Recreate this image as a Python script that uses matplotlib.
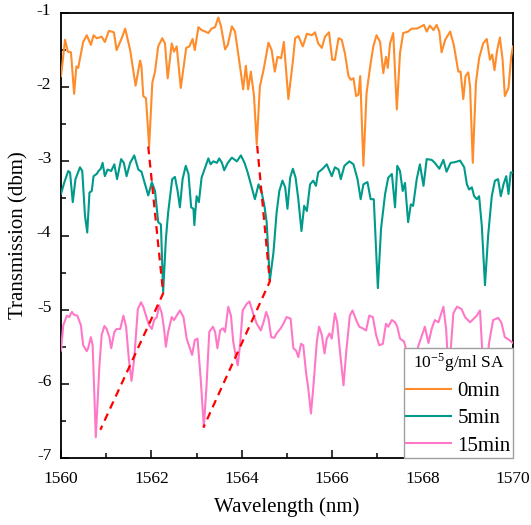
import matplotlib
matplotlib.use("Agg")
import matplotlib.pyplot as plt
from matplotlib.ticker import MultipleLocator
from matplotlib.transforms import ScaledTranslation

plt.rcParams["font.family"] = ["Liberation Serif", "DejaVu Serif"]
plt.rcParams["mathtext.fontset"] = "stix"
plt.rcParams["axes.unicode_minus"] = False
plt.rcParams.update({
    "xtick.labelsize": 12.5, "ytick.labelsize": 12.5,
    "xtick.direction": "in", "ytick.direction": "in",
    "xtick.major.size": 6, "ytick.major.size": 6,
    "xtick.minor.size": 3.5, "ytick.minor.size": 3.5,
    "xtick.major.width": 1.1, "ytick.major.width": 1.1,
    "xtick.minor.width": 1.1, "ytick.minor.width": 1.1,
    "xtick.major.pad": 9, "ytick.major.pad": 7,
})

ORANGE, TEAL, PINK = "#ff8c2a", "#009a8a", "#ff78c8"

# 0 min
orange_wl = [1560.00, 1560.09, 1560.15, 1560.22, 1560.29, 1560.34, 1560.38, 1560.49, 1560.57, 1560.66,
             1560.72, 1560.79, 1560.90, 1560.97, 1561.06, 1561.17, 1561.23, 1561.33, 1561.42, 1561.53,
             1561.65, 1561.75, 1561.78, 1561.82, 1561.88, 1561.95, 1562.02, 1562.08, 1562.15, 1562.24,
             1562.30, 1562.36, 1562.45, 1562.50, 1562.56, 1562.65, 1562.77, 1562.84, 1562.91, 1562.96,
             1563.04, 1563.11, 1563.19, 1563.26, 1563.33, 1563.41, 1563.48, 1563.54, 1563.63, 1563.69,
             1563.78, 1563.85, 1563.96, 1564.03, 1564.09, 1564.14, 1564.20, 1564.27, 1564.33, 1564.40,
             1564.48, 1564.59, 1564.66, 1564.73, 1564.79, 1564.87, 1564.93, 1565.03, 1565.13, 1565.18,
             1565.25, 1565.35, 1565.44, 1565.55, 1565.62, 1565.69, 1565.77, 1565.84, 1565.93, 1566.00,
             1566.06, 1566.14, 1566.21, 1566.28, 1566.36, 1566.41, 1566.47, 1566.53, 1566.58, 1566.62,
             1566.69, 1566.76, 1566.84, 1566.91, 1566.98, 1567.06, 1567.13, 1567.19, 1567.23, 1567.28,
             1567.35, 1567.43, 1567.50, 1567.57, 1567.68, 1567.76, 1567.87, 1567.94, 1568.03, 1568.09,
             1568.16, 1568.24, 1568.31, 1568.37, 1568.42, 1568.50, 1568.61, 1568.69, 1568.79, 1568.84,
             1568.90, 1568.95, 1569.01, 1569.05, 1569.11, 1569.18, 1569.25, 1569.34, 1569.42, 1569.49,
             1569.54, 1569.59, 1569.65, 1569.71, 1569.77, 1569.82, 1569.90, 1569.96, 1570.00]
orange_db = [-1.85, -1.36, -1.52, -1.53, -2.09, -1.72, -1.74, -1.39, -1.30, -1.43,
             -1.30, -1.34, -1.32, -1.39, -1.24, -1.26, -1.50, -1.36, -1.21, -1.50,
             -1.98, -1.64, -1.72, -2.12, -2.15, -2.80, -1.94, -1.79, -1.45, -1.34,
             -1.41, -1.88, -1.41, -1.52, -1.45, -2.01, -1.47, -1.45, -1.35, -1.50,
             -1.19, -1.23, -1.25, -1.27, -1.21, -1.19, -1.06, -1.18, -1.49, -1.43,
             -1.18, -1.25, -1.72, -2.03, -1.71, -2.03, -1.79, -2.12, -2.77, -1.99,
             -1.77, -1.40, -1.50, -1.79, -1.59, -1.61, -1.39, -2.16, -1.65, -1.34,
             -1.31, -1.45, -1.28, -1.30, -1.26, -1.41, -1.47, -1.32, -1.26, -1.63,
             -1.63, -1.34, -1.36, -1.54, -1.85, -1.90, -1.88, -2.12, -2.10, -1.85,
             -3.06, -2.08, -1.72, -1.45, -1.30, -1.39, -1.81, -1.59, -1.74, -1.41,
             -1.27, -2.30, -1.54, -1.27, -1.25, -1.21, -1.21, -1.19, -1.16, -1.25,
             -1.17, -1.23, -1.16, -1.25, -1.53, -1.36, -1.25, -1.43, -1.79, -1.79,
             -2.16, -1.85, -1.80, -1.99, -3.02, -1.94, -1.61, -1.41, -1.35, -1.63,
             -1.56, -1.77, -1.50, -1.33, -1.63, -2.12, -2.01, -1.59, -1.45]

# 5 min
teal_wl = [1560.00, 1560.07, 1560.16, 1560.20, 1560.26, 1560.32, 1560.42, 1560.47, 1560.53, 1560.58,
           1560.63, 1560.68, 1560.72, 1560.79, 1560.83, 1560.88, 1560.92, 1560.97, 1561.03, 1561.11,
           1561.18, 1561.24, 1561.33, 1561.39, 1561.45, 1561.53, 1561.62, 1561.71, 1561.78, 1561.86,
           1561.93, 1562.01, 1562.08, 1562.15, 1562.21, 1562.26, 1562.32, 1562.37, 1562.46, 1562.52,
           1562.58, 1562.63, 1562.69, 1562.76, 1562.82, 1562.88, 1562.93, 1562.95, 1563.00, 1563.05,
           1563.11, 1563.19, 1563.26, 1563.31, 1563.37, 1563.45, 1563.50, 1563.56, 1563.61, 1563.69,
           1563.78, 1563.89, 1563.98, 1564.06, 1564.13, 1564.22, 1564.29, 1564.37, 1564.44, 1564.50,
           1564.55, 1564.62, 1564.70, 1564.77, 1564.83, 1564.90, 1564.96, 1565.01, 1565.07, 1565.13,
           1565.19, 1565.25, 1565.32, 1565.38, 1565.44, 1565.51, 1565.58, 1565.64, 1565.69, 1565.79,
           1565.88, 1565.99, 1566.06, 1566.14, 1566.19, 1566.27, 1566.38, 1566.47, 1566.56, 1566.63,
           1566.69, 1566.78, 1566.85, 1566.92, 1567.01, 1567.08, 1567.17, 1567.24, 1567.32, 1567.39,
           1567.44, 1567.50, 1567.56, 1567.61, 1567.68, 1567.74, 1567.79, 1567.87, 1567.94, 1568.02,
           1568.09, 1568.20, 1568.27, 1568.37, 1568.46, 1568.53, 1568.62, 1568.72, 1568.83, 1568.92,
           1568.98, 1569.03, 1569.09, 1569.14, 1569.20, 1569.25, 1569.31, 1569.38, 1569.45, 1569.53,
           1569.60, 1569.67, 1569.73, 1569.79, 1569.85, 1569.90, 1569.95, 1570.00]
teal_db = [-3.44, -3.29, -3.13, -3.15, -3.55, -3.24, -3.08, -3.13, -3.73, -3.96,
           -3.42, -3.40, -3.20, -3.17, -3.13, -3.10, -3.02, -3.20, -3.11, -3.13,
           -3.04, -3.24, -2.97, -3.02, -3.20, -3.02, -2.92, -3.11, -3.14, -3.31,
           -3.46, -3.28, -3.40, -3.82, -3.85, -4.76, -4.05, -3.69, -3.24, -3.21,
           -3.40, -3.62, -3.24, -3.06, -3.17, -3.62, -3.64, -3.86, -3.47, -3.55,
           -3.22, -3.08, -2.96, -3.04, -3.00, -3.02, -2.96, -3.02, -3.12, -3.02,
           -2.95, -3.00, -2.92, -3.02, -3.15, -3.35, -3.51, -3.31, -3.42, -3.60,
           -3.82, -4.61, -4.23, -3.69, -3.40, -3.26, -3.35, -3.64, -3.22, -3.10,
           -3.22, -3.51, -3.94, -3.60, -3.67, -3.31, -3.26, -3.33, -3.15, -3.10,
           -3.04, -3.20, -3.08, -3.11, -3.24, -3.06, -3.00, -3.04, -3.24, -3.51,
           -3.31, -3.28, -3.51, -3.51, -4.71, -3.91, -3.44, -3.22, -3.17, -3.62,
           -3.06, -3.13, -3.40, -3.29, -3.82, -3.58, -3.60, -3.24, -3.04, -3.33,
           -2.97, -2.98, -3.02, -3.10, -2.98, -3.14, -3.02, -3.01, -2.99, -3.08,
           -3.31, -3.38, -3.35, -3.47, -3.51, -3.47, -3.87, -4.67, -4.00, -3.47,
           -3.26, -3.24, -3.47, -3.31, -3.20, -3.44, -3.15, -3.15]

# 15 min
pink_wl = [1560.00, 1560.05, 1560.13, 1560.18, 1560.24, 1560.29, 1560.36, 1560.44, 1560.49, 1560.57,
           1560.60, 1560.66, 1560.70, 1560.77, 1560.85, 1560.90, 1560.96, 1561.01, 1561.07, 1561.11,
           1561.18, 1561.23, 1561.31, 1561.38, 1561.44, 1561.50, 1561.56, 1561.62, 1561.70, 1561.77,
           1561.82, 1561.90, 1561.95, 1562.01, 1562.06, 1562.12, 1562.17, 1562.23, 1562.28, 1562.32,
           1562.37, 1562.45, 1562.50, 1562.56, 1562.63, 1562.71, 1562.78, 1562.84, 1562.90, 1562.96,
           1563.02, 1563.09, 1563.16, 1563.22, 1563.28, 1563.36, 1563.41, 1563.46, 1563.52, 1563.58,
           1563.63, 1563.70, 1563.76, 1563.81, 1563.85, 1563.91, 1563.96, 1564.02, 1564.11, 1564.17,
           1564.25, 1564.33, 1564.42, 1564.48, 1564.54, 1564.59, 1564.65, 1564.72, 1564.77, 1564.85,
           1564.92, 1564.99, 1565.08, 1565.14, 1565.20, 1565.25, 1565.31, 1565.36, 1565.42, 1565.47,
           1565.53, 1565.58, 1565.66, 1565.71, 1565.77, 1565.83, 1565.88, 1565.94, 1565.99, 1566.06,
           1566.11, 1566.17, 1566.25, 1566.31, 1566.39, 1566.45, 1566.53, 1566.60, 1566.67, 1566.75,
           1566.82, 1566.90, 1566.97, 1567.04, 1567.12, 1567.19, 1567.24, 1567.32, 1567.39, 1567.44,
           1567.50, 1567.59, 1567.75, 1567.90, 1568.05, 1568.13, 1568.20, 1568.27, 1568.35, 1568.46,
           1568.52, 1568.58, 1568.68, 1568.76, 1568.86, 1568.94, 1569.05, 1569.20, 1569.27, 1569.37,
           1569.47, 1569.56, 1569.67, 1569.74, 1569.82, 1569.92, 1570.00]
pink_db = [-5.55, -5.21, -5.08, -5.10, -5.03, -5.07, -5.08, -5.21, -5.48, -5.56,
           -5.52, -5.37, -5.48, -6.72, -5.75, -5.34, -5.22, -5.26, -5.37, -5.52,
           -5.30, -5.26, -5.26, -5.08, -5.23, -5.66, -5.96, -5.66, -4.99, -4.90,
           -4.96, -5.12, -5.21, -5.26, -5.14, -5.10, -4.94, -5.05, -5.26, -5.50,
           -5.30, -5.10, -5.14, -5.08, -5.01, -5.10, -5.39, -5.50, -5.61, -5.41,
           -5.39, -5.93, -6.58, -6.02, -5.30, -5.23, -5.30, -5.52, -5.28, -5.25,
           -5.30, -4.96, -5.08, -5.43, -5.57, -5.75, -5.48, -5.01, -4.92, -4.89,
           -5.05, -5.19, -5.28, -5.17, -5.03, -5.12, -5.37, -5.38, -5.32, -5.26,
           -5.19, -5.10, -5.12, -5.52, -5.55, -5.64, -5.46, -5.48, -5.84, -6.06,
           -6.40, -6.06, -5.43, -5.23, -5.34, -5.59, -5.39, -5.32, -5.39, -5.05,
           -5.17, -5.55, -6.02, -5.57, -5.08, -5.01, -5.14, -5.23, -5.25, -5.28,
           -5.08, -5.10, -5.34, -5.48, -5.46, -5.19, -5.23, -5.14, -5.17, -5.23,
           -5.39, -5.43, -5.80, -5.50, -5.23, -5.45, -5.26, -5.14, -5.17, -4.96,
           -5.26, -5.90, -5.05, -4.96, -4.99, -5.10, -5.17, -5.08, -5.01, -6.10,
           -5.45, -5.14, -5.11, -5.17, -5.37, -5.41, -5.45]

# red guide lines through the tracked dips
guide1_wl = [1561.93, 1562.26, 1560.87]
guide1_db = [-2.80, -4.78, -6.62]
guide2_wl = [1564.34, 1564.62, 1563.15]
guide2_db = [-2.79, -4.62, -6.59]

fig = plt.figure(figsize=(5.31, 5.25), dpi=100)
ax = fig.add_axes([0.1149, 0.1276, 0.8512, 0.8476])

ax.plot(orange_wl, orange_db, color=ORANGE, lw=1.5, label="0min", zorder=3)
ax.plot(teal_wl, teal_db, color=TEAL, lw=1.5, label="5min", zorder=3)
ax.plot(pink_wl, pink_db, color=PINK, lw=1.5, label="15min", zorder=3)
for gx, gy in ((guide1_wl, guide1_db), (guide2_wl, guide2_db)):
    ax.plot(gx, gy, color="#ff0000", lw=1.6, dashes=(3.5, 2.5), zorder=4)

ax.set_xlim(1560, 1570)
ax.set_ylim(-7, -1)
ax.xaxis.set_major_locator(MultipleLocator(2))
ax.xaxis.set_minor_locator(MultipleLocator(1))
ax.yaxis.set_major_locator(MultipleLocator(1))
ax.yaxis.set_minor_locator(MultipleLocator(0.5))
ax.tick_params(which="both", top=False, right=False)
# y tick labels sit a little above their ticks in the original
lift = ScaledTranslation(0, 3 / 72, fig.dpi_scale_trans)
for t in ax.yaxis.get_major_ticks():
    t.label1.set_transform(t.label1.get_transform() + lift)
for sp in ax.spines.values():
    sp.set_linewidth(1.3)

ax.set_xlabel("Wavelength (nm)", fontsize=15, labelpad=8)
ax.set_ylabel("Transmission (dbm)", fontsize=15, labelpad=6)

leg = ax.legend(loc="lower right", borderaxespad=0, fancybox=False, framealpha=1,
                edgecolor="#a0a0a0", fontsize=15, handlelength=2.15, handletextpad=0.3,
                labelspacing=0.37, borderpad=0.12, title="10$^{\\mathregular{-5}}$g/ml SA",
                title_fontsize=12.5)
leg.get_frame().set_linewidth(1.0)
leg.set_zorder(6)

fig.savefig("out.png", dpi=100, facecolor="white")
